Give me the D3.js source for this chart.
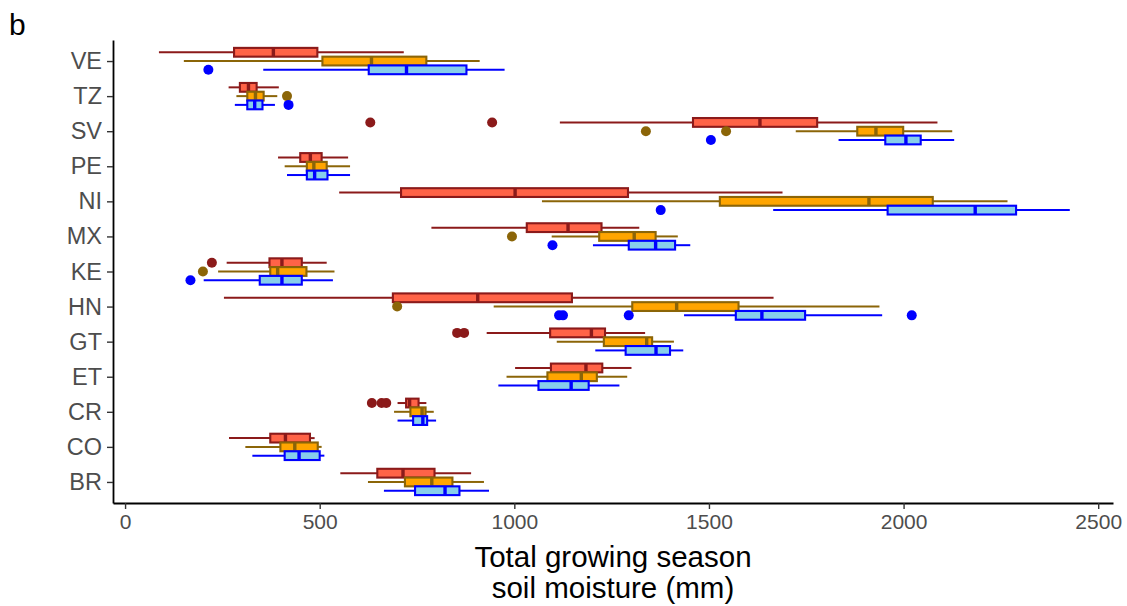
<!DOCTYPE html>
<meta charset="utf-8">
<style>
    body { margin: 0; background: #fff; }
    svg { display: block; font-family: Arial, "Liberation Sans", sans-serif; }
    .axis .domain { stroke: #000; stroke-width: 1.8; }
    .axis .tick line { stroke: #333; stroke-width: 1.4; }
    .axis .tick text { fill: #4d4d4d; }
</style>
<body>
<div id="chart"></div>
<script src="https://cdnjs.cloudflare.com/ajax/libs/d3/7.8.5/d3.min.js"></script>
<script>
    // countries, top to bottom
    var countries = ["VE", "TZ", "SV", "PE", "NI", "MX", "KE", "HN", "GT", "ET", "CR", "CO", "BR"];
    var xTicks = [0, 500, 1000, 1500, 2000, 2500];

    // [lower whisker, q1, median, q3, upper whisker] per country
    var statsRed = [
        [87, 280, 381, 494, 716], [266, 295, 317, 338, 395], [1117, 1459, 1631, 1778, 2087],
        [393, 450, 476, 505, 573], [550, 709, 1002, 1292, 1689], [787, 1032, 1138, 1224, 1321],
        [261, 371, 403, 454, 518], [254, 688, 906, 1148, 1666], [929, 1092, 1198, 1233, 1336],
        [1002, 1094, 1184, 1226, 1301], [700, 722, 731, 754, 774], [267, 373, 412, 475, 487],
        [553, 648, 714, 795, 889]
    ];
    var statsOrange = [
        [151, 507, 633, 774, 911], [286, 314, 335, 356, 391], [1723, 1881, 1929, 1999, 2125],
        [410, 467, 485, 518, 578], [1071, 1528, 1911, 2075, 2267], [1096, 1218, 1308, 1363, 1420],
        [239, 373, 392, 466, 538], [947, 1303, 1417, 1576, 1938], [1109, 1230, 1340, 1354, 1410],
        [980, 1085, 1172, 1212, 1290], [691, 733, 763, 772, 793], [309, 399, 436, 495, 505],
        [624, 719, 788, 841, 922]
    ];
    var statsBlue = [
        [355, 626, 723, 877, 975], [282, 314, 333, 353, 385], [1833, 1953, 2006, 2044, 2130],
        [416, 467, 487, 520, 578], [1665, 1959, 2184, 2289, 2427], [1202, 1294, 1363, 1413, 1452],
        [202, 346, 403, 454, 534], [1436, 1569, 1636, 1747, 1945], [1208, 1286, 1364, 1400, 1434],
        [959, 1062, 1146, 1191, 1270], [700, 740, 765, 776, 799], [327, 410, 447, 500, 512],
        [665, 745, 822, 859, 935]
    ];
    // outliers per country
    var outRed = [[], [], [630, 943], [], [], [], [223], [], [853, 871], [], [634, 659, 671], [], []];
    var outOrange = [[], [416], [1338, 1544], [], [], [994], [200], [699], [], [], [], [], []];
    var outBlue = [[214], [420], [1505], [], [1376], [1098], [168], [1115, 1125, 1294, 2021], [], [], [], [], []];

    var groups = [
        { stats: statsRed, out: outRed, fill: "#ff6347", stroke: "#8b1a1a" },
        { stats: statsOrange, out: outOrange, fill: "#ffa500", stroke: "#8b6508" },
        { stats: statsBlue, out: outBlue, fill: "#87ceeb", stroke: "#0000ff" }
    ];

    var width = 1127, height = 606;
    var svg = d3.select("#chart").append("svg")
        .attr("width", width)
        .attr("height", height);

    var x = d3.scaleLinear().domain([-31, 2538]).range([113, 1113]);
    var y = d3.scalePoint().domain(countries).range([40, 503]).padding(0.6);
    var step = y.step();
    var dodge = step * 0.25;
    var boxH = step * 0.25;

    // axes
    svg.append("g")
        .attr("class", "axis")
        .attr("transform", "translate(0,503)")
        .call(d3.axisBottom(x).tickValues(xTicks).tickFormat(d3.format("d"))
            .tickSize(6).tickSizeOuter(0).tickPadding(5))
        .selectAll("text").style("font-size", "21px");
    svg.append("g")
        .attr("class", "axis")
        .attr("transform", "translate(113,0)")
        .call(d3.axisLeft(y).tickSize(6).tickSizeOuter(0).tickPadding(5))
        .selectAll("text").style("font-size", "23.5px");

    var plot = svg.append("g");

    groups.forEach(function(g, gi) {
        var off = (gi - 1) * dodge;
        var layer = plot.append("g");
        var rows = layer.selectAll("g.box")
            .data(g.stats)
            .enter().append("g")
            .attr("class", "box")
            .attr("transform", function(d, i) { return "translate(0," + (y(countries[i]) + off) + ")"; });
        // whiskers
        rows.append("line")
            .attr("x1", d => x(d[0])).attr("x2", d => x(d[1]))
            .attr("stroke", g.stroke).attr("stroke-width", 2);
        rows.append("line")
            .attr("x1", d => x(d[3])).attr("x2", d => x(d[4]))
            .attr("stroke", g.stroke).attr("stroke-width", 2);
        // box
        rows.append("rect")
            .attr("x", d => x(d[1]))
            .attr("y", -boxH / 2)
            .attr("width", d => x(d[3]) - x(d[1]))
            .attr("height", boxH)
            .attr("fill", g.fill)
            .attr("stroke", g.stroke)
            .attr("stroke-width", 2.1);
        // median
        rows.append("line")
            .attr("x1", d => x(d[2])).attr("x2", d => x(d[2]))
            .attr("y1", -boxH / 2).attr("y2", boxH / 2)
            .attr("stroke", g.stroke).attr("stroke-width", 3.4);
        // outliers
        rows.each(function(d, i) {
            d3.select(this).selectAll("circle")
                .data(g.out[i])
                .enter().append("circle")
                .attr("cx", v => x(v))
                .attr("cy", 0)
                .attr("r", 5)
                .attr("fill", g.stroke);
        });
    });

    // axis title
    var title = svg.append("text")
        .attr("x", 613)
        .attr("text-anchor", "middle")
        .style("font-size", "29.5px")
        .attr("fill", "#000");
    title.append("tspan").attr("x", 613).attr("y", 567).text("Total growing season");
    title.append("tspan").attr("x", 613).attr("y", 598).text("soil moisture (mm)");

    // panel tag
    svg.append("text")
        .attr("x", 9)
        .attr("y", 35)
        .style("font-size", "30px")
        .attr("fill", "#000")
        .text("b");
</script>
</body>
